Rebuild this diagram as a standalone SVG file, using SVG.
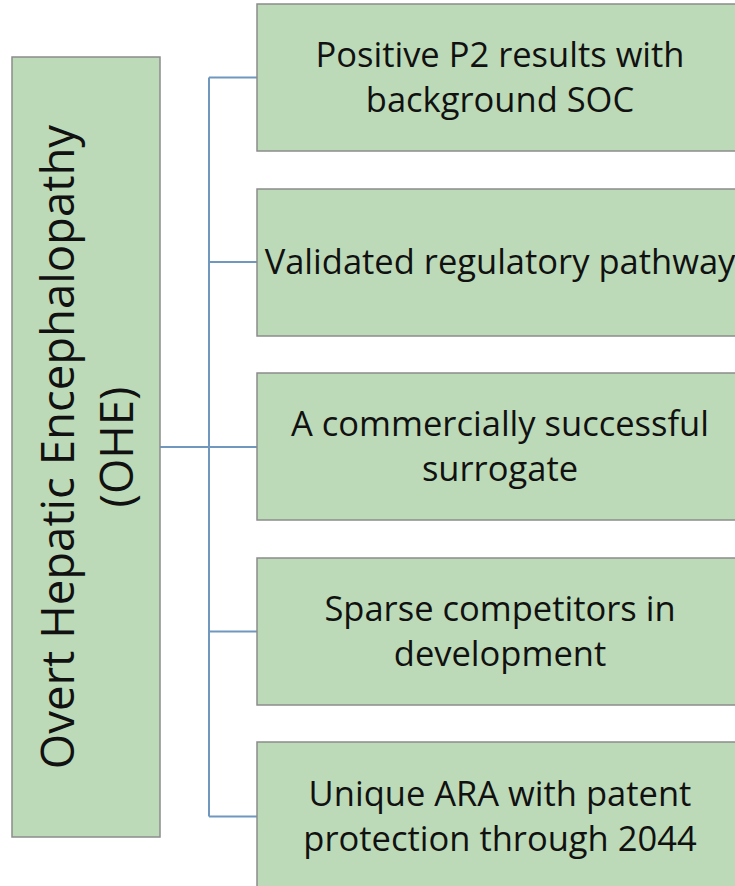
<svg xmlns="http://www.w3.org/2000/svg" width="735" height="886" viewBox="0 0 735 886">
  <style>
    .box { fill: #bddab8; stroke: #8c8c8c; stroke-width: 1.5; }
    .lbl { font-family: "Open Sans", "Noto Sans", "Liberation Sans", sans-serif; font-size: 34.5px; fill: #111; text-anchor: middle; }
    .big { font-size: 45.5px; }
    .conn { fill: none; stroke: #7097bd; stroke-width: 2; }
  </style>
  <rect width="735" height="886" fill="#ffffff"/>

  <g id="connectors">
    <path class="conn" d="M160,447 H209"/>
    <path class="conn" d="M209,77.5 V816.5"/>
    <path class="conn" d="M209,77.5 H257"/>
    <path class="conn" d="M209,262 H257"/>
    <path class="conn" d="M209,447 H257"/>
    <path class="conn" d="M209,631.5 H257"/>
    <path class="conn" d="M209,816.5 H257"/>
  </g>

  <g id="root">
    <rect class="box" x="12" y="57" width="148" height="780"/>
    <text class="lbl big" transform="translate(74,447) rotate(-90)" x="0" y="0">Overt Hepatic Encephalopathy</text>
    <text class="lbl big" transform="translate(133,447) rotate(-90)" x="0" y="0">(OHE)</text>
  </g>

  <g id="n1">
    <rect class="box" x="257" y="4" width="486" height="147"/>
    <text class="lbl" x="500" y="67">Positive P2 results with</text>
    <text class="lbl" x="500" y="112">background SOC</text>
  </g>

  <g id="n2">
    <rect class="box" x="257" y="189" width="486" height="147"/>
    <text class="lbl" x="500" y="274">Validated regulatory pathway</text>
  </g>

  <g id="n3">
    <rect class="box" x="257" y="373" width="486" height="147"/>
    <text class="lbl" x="500" y="436">A commercially successful</text>
    <text class="lbl" x="500" y="481">surrogate</text>
  </g>

  <g id="n4">
    <rect class="box" x="257" y="558" width="486" height="147"/>
    <text class="lbl" x="500" y="621">Sparse competitors in</text>
    <text class="lbl" x="500" y="666">development</text>
  </g>

  <g id="n5">
    <rect class="box" x="257" y="742" width="486" height="147"/>
    <text class="lbl" x="500" y="806">Unique ARA with patent</text>
    <text class="lbl" x="500" y="851">protection through 2044</text>
  </g>
</svg>
